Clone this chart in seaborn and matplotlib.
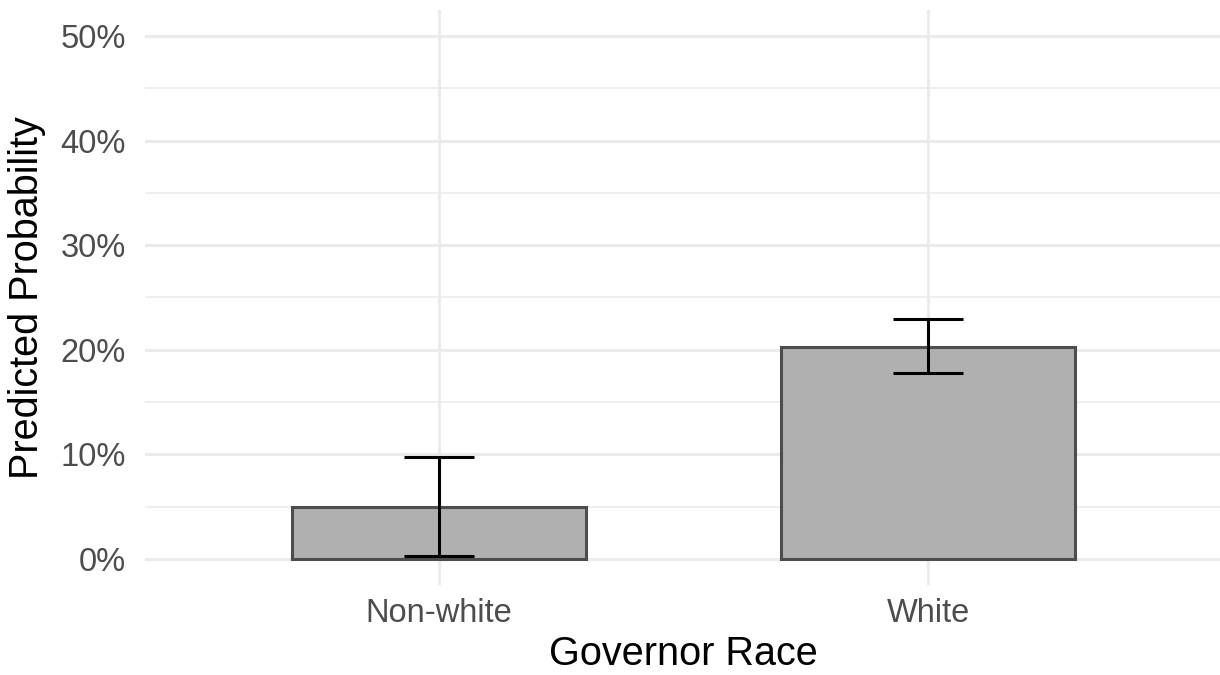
import numpy as np
import pandas as pd
import matplotlib
matplotlib.use("Agg")
import matplotlib.pyplot as plt
import seaborn as sns
from matplotlib.ticker import MultipleLocator, PercentFormatter

races = ["Non-white", "White"]
prob = [0.050, 0.203]
lower = [0.003, 0.178]
upper = [0.097, 0.229]

df = pd.DataFrame({"race": races, "prob": prob})

sns.set_theme(style="whitegrid")
plt.rcParams["font.family"] = ["Liberation Sans", "DejaVu Sans"]

fig = plt.figure(figsize=(12.2, 6.75), dpi=100)
ax = fig.add_axes([145 / 1220, 90 / 675, 1077 / 1220, 575 / 675])

sns.barplot(data=df, x="race", y="prob", color="#b0b0b0", saturation=1,
            edgecolor="#4d4d4d", linewidth=2.2, width=0.6, ax=ax, zorder=3)

yerr = [np.array(prob) - np.array(lower), np.array(upper) - np.array(prob)]
ax.errorbar(x=np.arange(len(races)), y=prob, yerr=yerr, fmt="none",
            ecolor="black", elinewidth=2.2, capsize=25.5, capthick=2.2, zorder=4)

ax.set_ylim(-0.025, 0.525)
ax.set_xlim(-0.6, 1.6)
ax.yaxis.set_major_locator(MultipleLocator(0.1))
ax.yaxis.set_minor_locator(MultipleLocator(0.05))
ax.yaxis.set_major_formatter(PercentFormatter(1.0, decimals=0))

ax.set_facecolor("white")
for s in ax.spines.values():
    s.set_visible(False)
ax.grid(which="major", color="#ebebeb", linewidth=2.2, zorder=0)
ax.grid(which="minor", axis="y", color="#ebebeb", linewidth=1.1, zorder=0)
ax.set_axisbelow(True)
ax.tick_params(axis="both", which="both", length=0, labelsize=23.5, labelcolor="#4d4d4d")
ax.tick_params(axis="y", pad=14)
ax.tick_params(axis="x", pad=9)

ax.set_xlabel("Governor Race", fontsize=28.5, color="black", labelpad=5)
ax.set_ylabel("Predicted Probability", fontsize=28.5, color="black", labelpad=10)

fig.savefig("out.png", dpi=100, facecolor="white")
